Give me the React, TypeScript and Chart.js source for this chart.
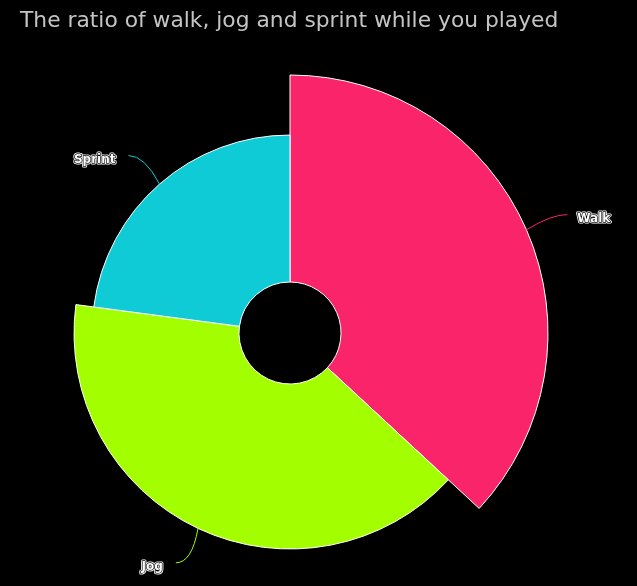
import React, { useEffect, useRef } from "react";
import { Chart, registerables } from "chart.js";

Chart.register(...registerables);

const TITLE = "The ratio of walk, jog and sprint while you played";
const categories = ["Walk", "Jog", "Sprint"];
const shares = [36.9, 40.2, 22.9];
const zValues = [100, 79.7, 71];
const colors = ["#f9246a", "#a3ff00", "#0ecbd6"];

const INNER = 51;
const MAX_OUTER = 258;

const variablePie = {
  id: "variablePie",
  beforeDatasetDraw(chart: any) {
    const meta = chart.getDatasetMeta(0);
    const zMax = Math.max(...zValues);
    meta.data.forEach((arc: any, i: number) => {
      arc.innerRadius = INNER;
      arc.outerRadius = INNER + ((MAX_OUTER - INNER) * zValues[i]) / zMax;
    });
  },
  afterDraw(chart: any) {
    const ctx = chart.ctx;
    const meta = chart.getDatasetMeta(0);
    ctx.save();
    meta.data.forEach((arc: any, i: number) => {
      const a = (arc.startAngle + arc.endAngle) / 2;
      const r = arc.outerRadius;
      const side = Math.cos(a) >= 0 ? 1 : -1;
      const ex = arc.x + Math.cos(a) * r;
      const ey = arc.y + Math.sin(a) * r;
      const lx = arc.x + Math.cos(a) * (r + 38) + side * 6;
      const ly = arc.y + Math.sin(a) * (r + 38);
      ctx.beginPath();
      ctx.moveTo(ex, ey);
      ctx.quadraticCurveTo(lx - side * 16, ly, lx, ly);
      ctx.strokeStyle = colors[i];
      ctx.lineWidth = 1;
      ctx.stroke();
      ctx.font = "bold 12px 'DejaVu Sans'";
      ctx.textBaseline = "middle";
      ctx.textAlign = side > 0 ? "left" : "right";
      const tx = side > 0 ? lx + 10 : lx - 13;
      const ty = ly + 4;
      ctx.lineJoin = "round";
      ctx.strokeStyle = "#ffffff";
      ctx.lineWidth = 3;
      ctx.strokeText(categories[i], tx, ty);
      ctx.strokeStyle = "#000000";
      ctx.lineWidth = 1.4;
      ctx.strokeText(categories[i], tx, ty);
      ctx.fillStyle = "#ffffff";
      ctx.fillText(categories[i], tx, ty);
    });
    ctx.font = "21.8px 'DejaVu Sans'";
    ctx.fillStyle = "#c4c4c4";
    ctx.textAlign = "left";
    ctx.textBaseline = "alphabetic";
    ctx.fillText(TITLE, 20, 27);
    ctx.restore();
  },
};

export default function App() {
  const ref = useRef<HTMLCanvasElement>(null);
  useEffect(() => {
    document.body.style.margin = "0";
    document.body.style.background = "#000";
    const chart = new Chart(ref.current as HTMLCanvasElement, {
      type: "doughnut",
      data: {
        labels: categories,
        datasets: [
          {
            data: shares,
            backgroundColor: colors,
            borderColor: "#ffffff",
            borderWidth: 1,
            borderJoinStyle: "miter" as any,
          },
        ],
      },
      options: {
        responsive: false,
        animation: false,
        radius: MAX_OUTER,
        cutout: INNER,
        layout: { padding: { left: 0, right: 57, top: 80, bottom: 0 } },
        plugins: {
          legend: { display: false },
          title: { display: false },
          tooltip: { enabled: false },
        },
      },
      plugins: [variablePie],
    });
    return () => chart.destroy();
  }, []);
  return (
    <div style={{ position: "fixed", left: 0, top: 0, width: 637, height: 586, background: "#000" }}>
      <canvas ref={ref} width={637} height={586} />
    </div>
  );
}
